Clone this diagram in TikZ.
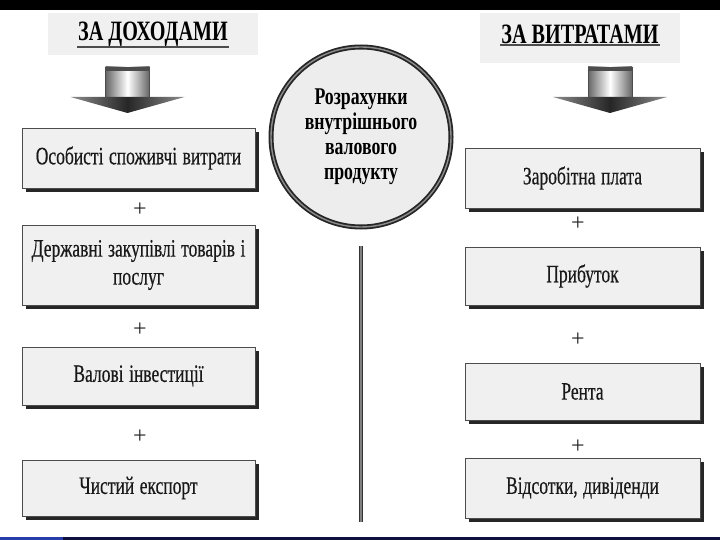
\documentclass[tikz,border=0pt]{standalone}
\usepackage{fontspec}
\setmainfont{Liberation Serif}
\newfontfamily\narrowfont[FakeStretch=0.7, FakeBold=0.4]{Liberation Serif}
\newfontfamily\headfont[FakeStretch=0.72]{Liberation Serif}
\newfontfamily\roundfont[FakeStretch=0.74]{Liberation Serif}
\newcommand\tightspace{\spaceskip 5.5pt\relax}
\usepackage{tikz}
\usetikzlibrary{shadows}
\definecolor{barnavy}{RGB}{16,16,64}
\definecolor{barblue}{RGB}{40,60,170}
\tikzset{
  item/.style={
    rectangle, draw=black!70, fill=black!6, text=black!90,
    minimum width=233pt, text width=226pt, align=center,
    font=\narrowfont\fontsize{25}{28}\selectfont,
    execute at begin node=\tightspace,
    drop shadow={shadow xshift=4pt, shadow yshift=-4pt, fill=black!85, opacity=1}
  },
  plus/.style={font=\fontsize{24}{24}\selectfont, text=black!85},
  headbg/.style={fill=black!6, inner sep=0pt},
  heading/.style={font=\headfont\bfseries\fontsize{28}{30}\selectfont, inner sep=1pt, text=black},
  underline/.style={draw=black!70, line width=2pt},
  total/.style={
    circle, minimum size=180pt, align=center,
    draw=black!85, line width=1.8pt, double=black!45, double distance=1.4pt,
    fill=black!7, text=black,
    font=\roundfont\bfseries\fontsize{24}{25}\selectfont
  },
  stem/.style={draw=black!80, line width=1.5pt, double=black!50, double distance=1.5pt}
}
\begin{document}
\begin{tikzpicture}[x=1pt, y=-1pt]
  \useasboundingbox (0,0) rectangle (720,540);
  \fill[black] (0,0) rectangle (720,10);
  \fill[barnavy] (0,537) rectangle (720,540);
  \fill[barblue] (0,537) rectangle (63,540);

  % headings
  \node[headbg, minimum width=210pt, minimum height=42pt] (inbg) at (153,34) {};
  \node[heading] (inhead) at (153,34) {ЗА ДОХОДАМИ};
  \draw[underline] (inhead.south west) -- (inhead.south east);
  \node[headbg, minimum width=200pt, minimum height=50pt] (outbg) at (580,38) {};
  \node[heading] (outhead) at (580,34) {ЗА ВИТРАТАМИ};
  \draw[underline] (outhead.south west) -- (outhead.south east);

  % block arrows
  \foreach \cx in {127.5,610} {
    \shade[left color=black!60, right color=black!60, middle color=white, draw=black!70]
      (\cx-22,67) rectangle (\cx+22,97);
    \fill[black!70] (\cx-22,67) rectangle (\cx+22,71);
    \shade[left color=black!45, right color=black!45, middle color=black!85]
      (\cx-57,97) -- (\cx+57,97) -- (\cx,113) -- cycle;
  }

  % left column
  \node[item, minimum height=60pt] (consume) at (138.5,158) {Особисті споживчі витрати};
  \node[plus] (p1) at (140,210) {+};
  \node[item, minimum height=80pt] (govt) at (138.5,265) {Державні закупівлі товарів і\\послуг};
  \node[plus] (p2) at (140,330) {+};
  \node[item, minimum height=58pt] (invest) at (138.5,376) {Валові інвестиції};
  \node[plus] (p3) at (140,437) {+};
  \node[item, minimum height=56pt] (export) at (138.5,488) {Чистий експорт};

  % right column
  \node[item, minimum height=60pt, minimum width=235pt] (wages) at (582.5,178) {Заробітна плата};
  \node[plus] (q1) at (578,224) {+};
  \node[item, minimum height=58pt, minimum width=235pt] (profit) at (582.5,276) {Прибуток};
  \node[plus] (q2) at (578,340) {+};
  \node[item, minimum height=57pt, minimum width=235pt] (rent) at (582.5,391.5) {Рента};
  \node[plus] (q3) at (578,447) {+};
  \node[item, minimum height=60pt, minimum width=235pt] (interest) at (582.5,488) {Відсотки, дивіденди};

  % centre
  \node[total] (gdp) at (361,137) {Розрахунки\\внутрішнього\\валового\\продукту};
  \coordinate (stemend) at (361,522);
  \draw[stem, shorten <=18pt] (gdp) -- (stemend);
\end{tikzpicture}
\end{document}
